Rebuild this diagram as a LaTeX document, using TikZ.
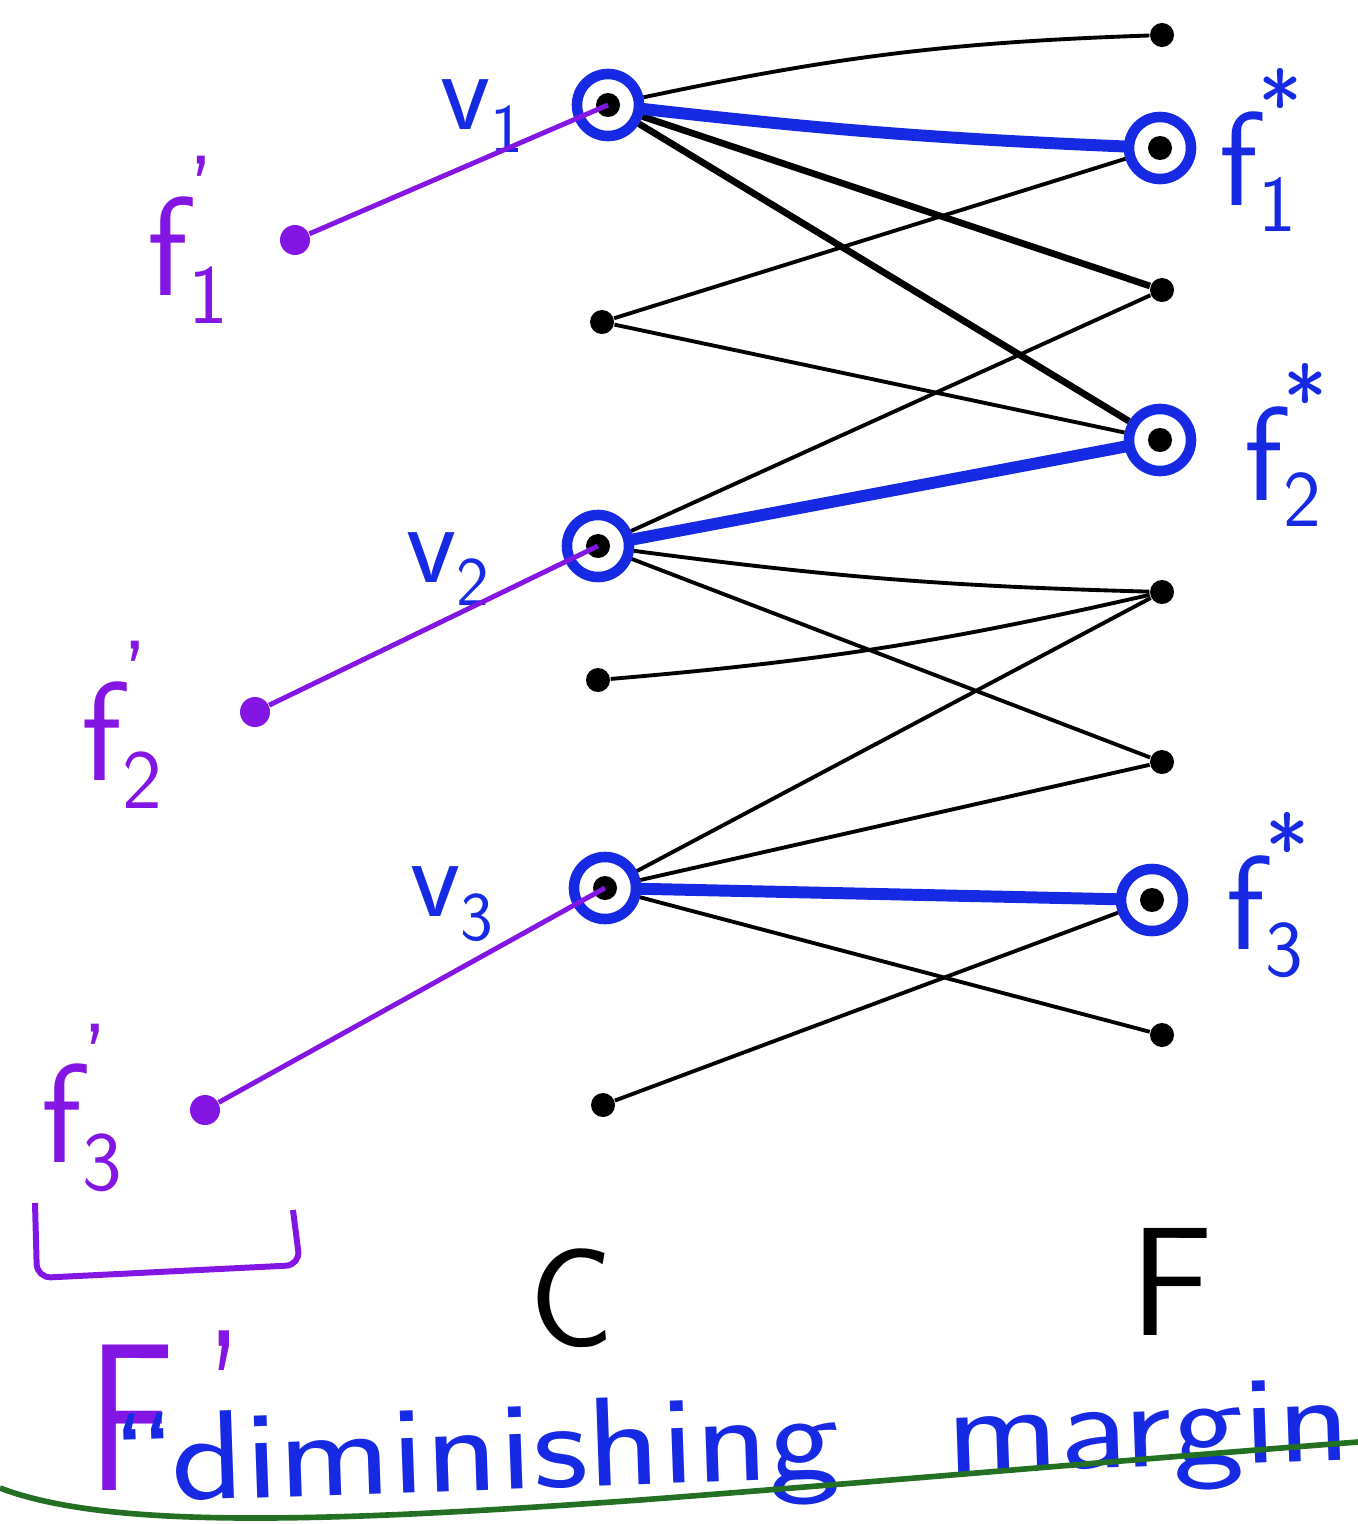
\documentclass[tikz,border=0pt]{standalone}
\usepackage{graphicx}
\usepackage{xcolor}

\definecolor{penblue}{RGB}{22,42,228}
\definecolor{penpurple}{RGB}{132,22,228}
\definecolor{pengreen}{RGB}{35,112,35}

% letter with a mark above and an index below
\newcommand{\lbl}[3]{#1\rlap{\raisebox{0.5em}{\scalebox{0.7}{#2}}}\raisebox{-0.2em}{\scalebox{0.6}{#3}}}

\begin{document}
\begin{tikzpicture}[
  x=0.01cm, y=-0.01cm,
  font=\sffamily,
  dot/.style={circle, fill=black, inner sep=0pt, minimum size=0.24cm},
  ring/.style={circle, draw=penblue, line width=3pt, inner sep=0pt,
               minimum size=0.62cm,
               path picture={\fill[black] (path picture bounding box.center) circle (0.12cm);}},
  pdot/.style={circle, fill=penpurple, inner sep=0pt, minimum size=0.3cm},
  e/.style={line width=1.1pt},
  eh/.style={line width=1.9pt},
  sel/.style={draw=penblue, line width=3.4pt, line cap=round},
  pe/.style={draw=penpurple, line width=1.4pt},
  vlab/.style={text=penblue, font=\fontsize{33}{36}\selectfont\sffamily},
  flab/.style={text=penblue, font=\fontsize{38}{42}\selectfont\sffamily},
  plab/.style={text=penpurple, font=\fontsize{40}{44}\selectfont\sffamily},
  set/.style={font=\fontsize{40}{44}\selectfont\sffamily}
]
\path[use as bounding box, clip] (0,0) rectangle (1358,1524);

% ================= left side C =================
\node[ring] (c1) at (608,105) {};
\node[dot]  (c2) at (602,322) {};
\node[ring] (c3) at (598,546) {};
\node[dot]  (c4) at (598,680) {};
\node[ring] (c5) at (605,888) {};
\node[dot]  (c6) at (603,1105) {};

% ================= right side F =================
\node[dot]  (f1) at (1162,35) {};
\node[ring] (f2) at (1160,148) {};
\node[dot]  (f3) at (1162,290) {};
\node[ring] (f4) at (1160,440) {};
\node[dot]  (f5) at (1162,592) {};
\node[dot]  (f6) at (1162,762) {};
\node[ring] (f7) at (1152,900) {};
\node[dot]  (f8) at (1162,1035) {};

% ================= F' points =================
\node[pdot] (p1) at (295,240) {};
\node[pdot] (p2) at (255,712) {};
\node[pdot] (p3) at (205,1110) {};

% ================= labels =================
\node[vlab] (lv1) at (482,112) {\lbl{v}{}{1}};
\node[vlab] (lv2) at (448,565) {\lbl{v}{}{2}};
\node[vlab] (lv3) at (452,900) {\lbl{v}{}{3}};
\node[flab] (lf1) at (1258,150) {\lbl{f}{*}{1}};
\node[flab] (lf2) at (1283,445) {\lbl{f}{*}{2}};
\node[flab] (lf3) at (1265,895) {\lbl{f}{*}{3}};
\node[plab] (lp1) at (188,240) {\lbl{f}{'}{1}};
\node[plab] (lp2) at (122,725) {\lbl{f}{'}{2}};
\node[plab] (lp3) at (82,1108) {\lbl{f}{'}{3}};
\node[set] (lc) at (572,1298) {C};
\node[set, font=\fontsize{44}{48}\selectfont\sffamily] (lf) at (1172,1282) {F};
\node[text=penpurple, font=\fontsize{46}{50}\selectfont\sffamily, inner sep=0pt,
      anchor=base west] (lfp) at (88,1490)
  {\scalebox{1}[1.3]{F}\kern0.2em\raisebox{0.15em}{\scalebox{0.8}[1.2]{'}}};
\node[text=penblue, font=\fontsize{36}{40}\selectfont\sffamily, inner sep=0pt,
      anchor=base west, rotate=2] (dim) at (112,1503)
  {\scalebox{1.2}[1]{``\kern-0.05em diminishing\hspace{0.7em}margin}};

% ================= all edges =================
\draw[e]  (c1) to[bend left=5] (f1);
\draw[eh] (c1) -- (f3);
\draw[eh] (c1) -- (f4);
\draw[e]  (c2) -- (f2);
\draw[e]  (c2) -- (f4);
\draw[e]  (c3) -- (f3);
\draw[e]  (c3) to[bend right=3] (f5);
\draw[e]  (c3) -- (f6);
\draw[e]  (c4) to[bend right=4] (f5);
\draw[e]  (c5) -- (f5);
\draw[e]  (c5) -- (f6);
\draw[e]  (c5) -- (f8);
\draw[e]  (c6) -- (f7);

% ================= chosen facility per client =================
\draw[sel] (c1) to[bend right=2] (f2);
\draw[sel] (c3) -- (f4);
\draw[sel] (c5) -- (f7);

% ================= F' links =================
\draw[pe] (p1) -- (c1.center);
\draw[pe] (p2) -- (c3.center);
\draw[pe] (p3) -- (c5.center);
\draw[pe, line width=1.7pt, rounded corners=4pt]
  (35,1203) -- (37,1278) -- (300,1265) -- (293,1210);

% underline
\draw[pengreen, line width=1.6pt]
  (0,1488) .. controls (110,1530) and (330,1522) .. (640,1500)
  .. controls (900,1480) and (1150,1458) .. (1358,1442);
\end{tikzpicture}
\end{document}
